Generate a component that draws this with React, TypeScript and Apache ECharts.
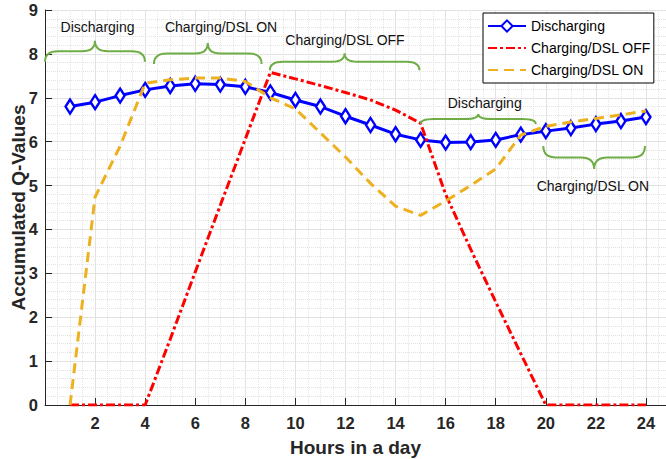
import React, { useEffect, useRef } from "react";
import * as echarts from "echarts";

const hours = [1, 2, 3, 4, 5, 6, 7, 8, 9, 10, 11, 12, 13, 14, 15, 16, 17, 18, 19, 20, 21, 22, 23, 24];
const discharging = [6.8, 6.9, 7.05, 7.18, 7.27, 7.32, 7.3, 7.25, 7.12, 6.95, 6.8, 6.58, 6.38, 6.17, 6.04, 5.98, 5.99, 6.04, 6.16, 6.24, 6.31, 6.4, 6.47, 6.56];
const chargingOff = [0, 0, 0, 0, 1.5, 3.03, 4.55, 6.06, 7.58, 7.43, 7.28, 7.12, 6.95, 6.72, 6.42, 4.8, 3.55, 2.35, 1.17, 0, 0, 0, 0, 0];
const chargingOn = [0, 4.74, 5.9, 7.33, 7.41, 7.45, 7.45, 7.37, 7.0, 6.75, 6.2, 5.65, 5.05, 4.53, 4.32, 4.65, 5.0, 5.38, 6.15, 6.35, 6.45, 6.53, 6.61, 6.7];
const seriesNames = ["Discharging", "Charging/DSL OFF", "Charging/DSL ON"];
const xTicks = [0, 2, 4, 6, 8, 10, 12, 14, 16, 18, 20, 22, 24];
const yTicks = [0, 1, 2, 3, 4, 5, 6, 7, 8, 9];

// annotation braces: from hour x0 to x1 at value y, label at (lx, ly)
const braceLabels = ["Discharging", "Charging/DSL ON", "Charging/DSL OFF", "Discharging", "Charging/DSL ON"];
const braceX0 = [0, 4.35, 8.98, 15.0, 19.9];
const braceX1 = [3.99, 8.65, 14.95, 19.6, 23.96];
const braceY = [7.82, 7.77, 7.63, 6.4, 5.9];
const braceLabelX = [2.1, 7.03, 11.98, 17.56, 21.88];
const braceLabelY = [8.61, 8.61, 8.31, 6.89, 4.99];
const braceHeight = [21, 21, 17, 10, 23];
const braceDir = [-1, -1, -1, -1, 1];

const FONT = "'Liberation Sans', Arial, Helvetica, sans-serif";

const Brace = (echarts.graphic as any).extendShape({
  shape: { x0: 0, x1: 0, y: 0, h: 20, dir: -1 },
  buildPath(ctx: any, s: any) {
    const ym = s.y + s.dir * s.h * 0.5;
    const ya = s.y + s.dir * s.h;
    const cx = (s.x0 + s.x1) / 2;
    const r = Math.min(13, (s.x1 - s.x0) / 6);
    ctx.moveTo(s.x0, s.y);
    ctx.quadraticCurveTo(s.x0, ym, s.x0 + r, ym);
    ctx.lineTo(cx - r, ym);
    ctx.quadraticCurveTo(cx, ym, cx, ya);
    ctx.moveTo(cx, ya);
    ctx.quadraticCurveTo(cx, ym, cx + r, ym);
    ctx.lineTo(s.x1 - r, ym);
    ctx.quadraticCurveTo(s.x1, ym, s.x1, s.y);
  },
});
(echarts.graphic as any).registerShape("brace", Brace);

export default function App() {
  const ref = useRef<HTMLDivElement>(null);

  useEffect(() => {
    if (!ref.current) return;
    const chart = echarts.init(ref.current, undefined, { renderer: "svg" });
    const axisColor = "#262626";
    const hidden = { color: "rgba(0,0,0,0)", borderColor: "rgba(0,0,0,0)", borderWidth: 0, opacity: 0 };
    const option: any = {
      animation: false,
      backgroundColor: "#ffffff",
      grid: { left: 45, right: 0, top: 10, bottom: 54, containLabel: false, outerBoundsMode: "none" },
      legend: {
        orient: "vertical",
        left: 483,
        top: 13,
        data: [
          { name: seriesNames[0] },
          { name: seriesNames[1], itemStyle: hidden },
          { name: seriesNames[2], itemStyle: hidden },
        ],
        itemWidth: 38,
        itemHeight: 14,
        itemGap: 8,
        padding: [6, 3, 6, 4],
        borderColor: "#000",
        borderWidth: 1,
        borderRadius: 0,
        backgroundColor: "#ffffff",
        textStyle: { fontSize: 14, color: "#000", fontFamily: FONT },
        z: 10,
      },
      xAxis: {
        type: "value",
        min: 0,
        max: 24.8,
        interval: 2,
        name: "Hours in a day",
        nameLocation: "middle",
        nameGap: 33,
        nameMoveOverlap: false,
        nameTextStyle: { fontSize: 19, fontWeight: "bold", color: axisColor, fontFamily: FONT },
        axisLine: { show: true, onZero: false, lineStyle: { color: axisColor, width: 1 } },
        axisTick: { show: true, inside: true, length: 7, lineStyle: { color: axisColor } },
        axisLabel: {
          fontSize: 16.5,
          fontWeight: "bold",
          color: axisColor,
          fontFamily: FONT,
          margin: 9,
          showMaxLabel: false,
          formatter: (v: number) => (xTicks.indexOf(v) > 0 ? String(v) : ""),
        },
        splitLine: { show: true, lineStyle: { color: "#e2e2e2", width: 1 } },
        minorTick: { show: false, splitNumber: 4 },
        minorSplitLine: { show: true, lineStyle: { color: "#e4e4e4", type: "dotted", width: 1 } },
      },
      yAxis: {
        type: "value",
        min: 0,
        max: 9,
        interval: 1,
        name: "Accumulated Q-Values",
        nameLocation: "middle",
        nameGap: 17,
        nameMoveOverlap: false,
        nameTextStyle: { fontSize: 19, fontWeight: "bold", color: axisColor, fontFamily: FONT },
        axisLine: { show: true, lineStyle: { color: axisColor, width: 1 } },
        axisTick: { show: true, inside: true, length: 7, lineStyle: { color: axisColor } },
        axisLabel: {
          fontSize: 16.5,
          fontWeight: "bold",
          color: axisColor,
          fontFamily: FONT,
          margin: 7,
          formatter: (v: number) => (yTicks.indexOf(v) >= 0 ? String(v) : ""),
        },
        splitLine: { show: true, lineStyle: { color: "#e2e2e2", width: 1 } },
        minorTick: { show: false, splitNumber: 5 },
        minorSplitLine: { show: true, lineStyle: { color: "#e4e4e4", type: "dotted", width: 1 } },
      },
      series: [
        {
          name: seriesNames[0],
          type: "line",
          data: hours.map((h, i) => [h, discharging[i]]),
          color: "#0000ff",
          symbol: "diamond",
          symbolSize: [9, 14],
          itemStyle: { color: "#ffffff", borderColor: "#0000ff", borderWidth: 2.5 },
          lineStyle: { color: "#0000ff", width: 3 },
          z: 2,
        },
        {
          name: seriesNames[1],
          type: "line",
          data: hours.map((h, i) => [h, chargingOff[i]]),
          color: "#ff0000",
          symbol: "none",
          lineStyle: { color: "#ff0000", width: 3, type: [9, 3, 3, 3] },
          z: 3,
        },
        {
          name: seriesNames[2],
          type: "line",
          data: hours.map((h, i) => [h, chargingOn[i]]),
          color: "#EDB120",
          symbol: "none",
          lineStyle: { color: "#EDB120", width: 3, type: [10, 6] },
          z: 4,
        },
      ],
    };
    chart.setOption(option);

    const toPx = (x: number, y: number) => chart.convertToPixel({ gridIndex: 0 } as any, [x, y]) as number[];
    const graphics: any[] = [];
    braceLabels.forEach((label, i) => {
      const p0 = toPx(braceX0[i], braceY[i]);
      const p1 = toPx(braceX1[i], braceY[i]);
      const pl = toPx(braceLabelX[i], braceLabelY[i]);
      graphics.push({
        type: "brace",
        shape: { x0: p0[0], x1: p1[0], y: p0[1], h: braceHeight[i], dir: braceDir[i] },
        style: { fill: "none", stroke: "#70AD47", lineWidth: 2 },
        z: 5,
      });
      graphics.push({
        type: "text",
        x: pl[0],
        y: pl[1],
        style: {
          text: label,
          fontSize: 14,
          fontFamily: FONT,
          fill: "#111",
          align: "center",
          verticalAlign: "middle",
        },
        z: 5,
      });
    });
    chart.setOption({ graphic: graphics });

    return () => chart.dispose();
  }, []);

  return (
    <div
      ref={ref}
      style={{ position: "absolute", left: 0, top: 0, width: 666, height: 459 }}
    />
  );
}
